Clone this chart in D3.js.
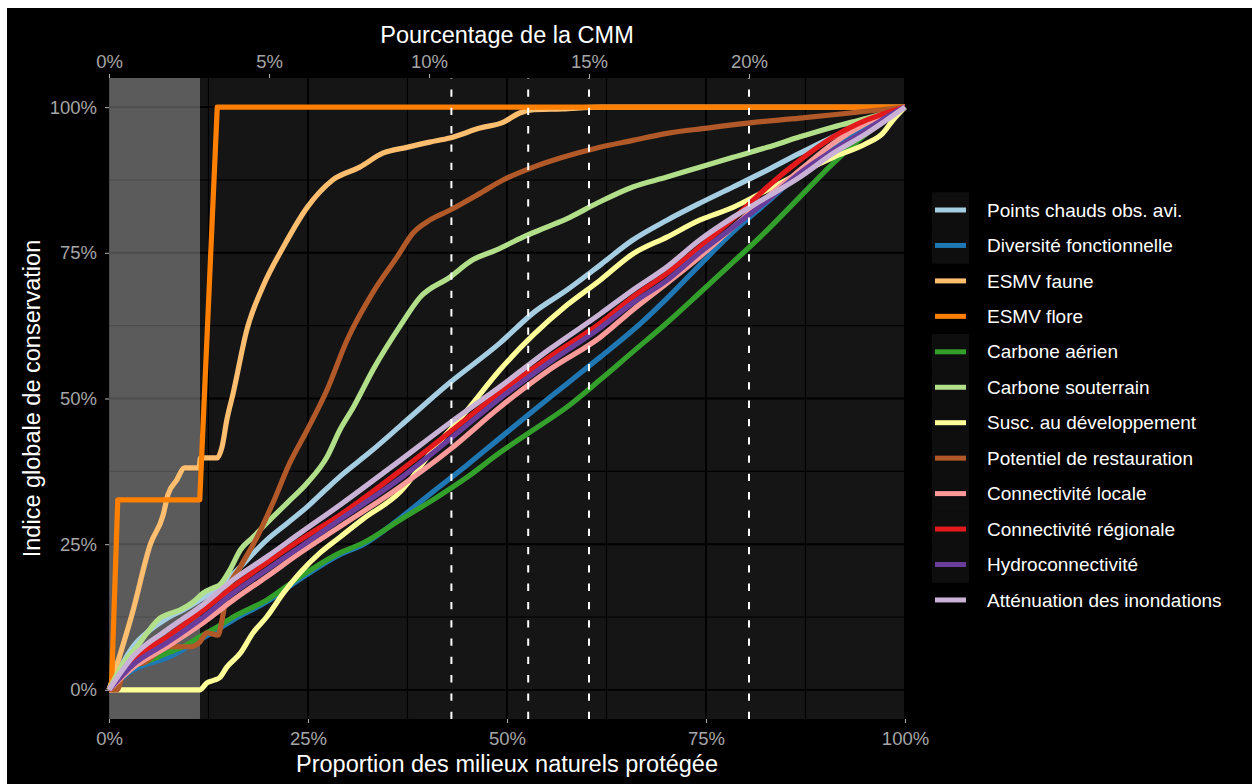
<!DOCTYPE html>
<html><head><meta charset="utf-8">
<script src="https://cdn.jsdelivr.net/npm/d3@7"></script>
<style>html,body{margin:0;padding:0;background:#fff;} svg{display:block;}</style>
</head><body><svg id="chart" width="1252" height="784"></svg>
<script>
// ---------------- DATA (x: % milieux naturels protégés, y: % indice) ----------------
const seriesNames = [
  "Points chauds obs. avi.", "Diversité fonctionnelle", "ESMV faune", "ESMV flore",
  "Carbone aérien", "Carbone souterrain", "Susc. au développement", "Potentiel de restauration",
  "Connectivité locale", "Connectivité régionale", "Hydroconnectivité", "Atténuation des inondations"
];
const seriesColors = ["#A6CEE3","#1F78B4","#FDBF6F","#FF7F00","#33A02C","#B2DF8A","#FFFF99","#B15928","#FB9A99","#E31A1C","#6A3D9A","#CAB2D6"];

const pointsChauds = [[0,0],[3.0,7.4],[5.2,10.3],[7.3,12.3],[9.3,13.7],[11.4,15.4],[13.9,17.7],[16.5,21.1],[19.8,25.7],[22.4,28.6],[24.9,31.4],[27.4,34.6],[29.0,36.6],[32.8,40.8],[36.6,45.3],[42.8,52.7],[49.1,59.5],[53.3,64.7],[57.5,68.6],[61.7,72.9],[65.8,77.2],[70.1,80.6],[74.2,83.5],[78.4,86.3],[82.7,89.2],[86.8,92.1],[91.0,94.9],[95.2,97.3],[100,100]];
const diversiteFonct = [[0,0],[3.0,3.4],[5.2,4.6],[7.3,5.5],[9.3,6.9],[11.4,8.6],[13.6,10.3],[15.6,12.0],[19.8,15.1],[24.0,19.0],[29.0,23.2],[31.9,24.9],[36.6,29.5],[40.7,34.0],[45.0,38.6],[49.1,43.2],[53.3,47.9],[57.5,52.5],[61.7,57.1],[65.8,61.7],[70.1,67.2],[74.2,72.9],[78.4,78.6],[82.7,83.7],[86.8,88.7],[91.0,93.1],[95.2,96.6],[100,100]];
const esmvFaune = [[0,0],[3.0,13.5],[5.2,25.0],[6.8,30.0],[7.4,33.5],[8.5,36.0],[9.5,38.1],[11.3,38.1],[11.5,39.8],[13.6,39.8],[14.2,41.7],[14.8,46.3],[15.6,50.9],[17.3,61.7],[19.3,69.1],[21.9,76.0],[24.9,82.8],[28.1,87.5],[31.5,89.7],[34.4,92.1],[37.4,93.1],[40.3,94.0],[42.8,94.7],[46.6,96.4],[49.5,97.4],[51.6,99.0],[52.9,99.5],[57.0,99.7],[61.7,100],[100,100]];
const esmvFlore = [[0,0],[0.3,0],[1.1,32.6],[11.4,32.6],[13.6,100],[100,100]];
const carboneAerien = [[0,0],[3.0,3.9],[5.2,5.1],[7.3,6.3],[9.3,7.4],[11.4,9.1],[13.6,10.8],[15.6,12.5],[19.8,15.4],[24.0,19.4],[29.0,23.5],[31.9,25.2],[36.6,29.2],[40.7,32.6],[45.0,36.5],[49.1,40.7],[53.3,44.6],[57.5,48.5],[61.7,53.2],[65.8,58.0],[70.1,63.0],[74.2,68.1],[78.4,73.4],[82.7,78.9],[86.8,84.6],[91.0,90.4],[95.2,95.5],[100,100]];
const carboneSout = [[0,0],[1.8,4.6],[3.5,7.4],[4.8,9.8],[6.4,12.3],[7.3,12.9],[8.9,13.7],[10.6,15.1],[11.8,16.6],[13.1,17.5],[13.9,18.0],[15.2,20.6],[16.5,24.0],[18.1,26.2],[19.8,28.6],[22.4,32.1],[24.9,35.5],[27.4,40.0],[29.0,44.6],[30.7,48.5],[33.2,55.0],[36.6,62.5],[39.1,67.4],[42.8,70.8],[45.7,73.8],[48.7,75.5],[52.0,77.7],[55.0,79.4],[57.9,81.1],[61.3,83.5],[65.8,86.3],[70.1,88.0],[74.2,89.7],[78.4,91.4],[82.7,93.1],[86.8,94.9],[91.0,96.6],[95.2,98.1],[100,100]];
const suscDev = [[0,0],[11.4,0],[12.3,1.2],[13.3,1.7],[13.9,2.1],[14.8,3.9],[16.5,6.3],[18.1,9.8],[19.8,12.5],[21.9,16.6],[24.0,20.1],[26.5,23.5],[29.0,26.2],[31.9,29.3],[36.6,34.0],[40.7,41.2],[45.0,48.0],[49.1,54.9],[53.3,60.9],[57.5,66.0],[61.7,70.3],[65.8,74.8],[70.1,77.7],[74.2,80.6],[78.4,82.8],[82.7,85.8],[86.8,88.7],[91.0,91.4],[95.2,93.8],[97.2,95.5],[98.5,97.8],[100,100]];
const potentielRest = [[0,0],[1.0,0],[1.8,2.9],[3.0,4.3],[4.3,4.6],[6.0,6.3],[7.3,7.4],[10.2,7.4],[11.4,8.2],[12.3,9.8],[13.7,9.4],[14.2,12.0],[14.8,16.6],[16.5,21.1],[18.6,26.2],[20.6,32.1],[22.7,38.9],[24.9,44.6],[27.4,51.5],[29.9,60.0],[33.2,68.3],[36.2,74.3],[38.2,78.4],[40.3,80.6],[42.8,82.3],[46.6,85.2],[49.5,87.5],[52.9,89.5],[57.0,91.4],[61.3,93.0],[65.8,94.3],[70.1,95.5],[75.1,96.4],[80.5,97.3],[86.8,98.1],[93.1,99.0],[100,100]];
const connLocale = [[0,0],[3.0,3.8],[7.3,7.4],[11.4,11.1],[15.6,15.4],[19.8,19.4],[24.0,23.5],[29.0,28.0],[36.2,34.5],[42.8,41.2],[49.1,48.5],[55.4,55.0],[61.7,60.5],[65.8,65.2],[70.1,69.8],[74.2,74.3],[78.4,79.4],[82.7,84.6],[86.8,89.2],[91.0,93.8],[95.2,97.3],[100,100]];
const connRegionale = [[0,0],[3.0,5.1],[7.3,9.1],[11.4,13.2],[15.6,17.7],[19.8,21.8],[24.0,25.7],[29.0,30.0],[36.2,37.2],[42.8,44.2],[49.1,51.0],[55.4,57.2],[61.7,62.9],[65.8,67.4],[70.1,71.5],[74.2,76.0],[79.6,82.3],[82.7,86.3],[86.8,90.9],[91.0,94.9],[95.2,97.8],[100,100]];
const hydroconn = [[0,0],[3.0,4.3],[7.3,8.1],[11.4,12.0],[15.6,16.6],[19.8,20.6],[24.0,24.5],[29.0,29.2],[36.2,35.9],[42.8,43.0],[49.1,50.0],[55.4,56.3],[61.7,62.1],[65.8,66.4],[70.1,70.3],[74.2,75.0],[78.4,79.4],[82.7,84.0],[86.8,88.7],[91.0,92.6],[95.2,96.1],[97.7,98.3],[100,100]];
const attenuation = [[0,0],[3.0,5.7],[7.3,10.3],[11.4,14.2],[15.6,18.9],[19.8,22.8],[24.0,26.9],[29.0,31.7],[36.2,39.0],[42.8,45.8],[49.1,52.0],[55.4,58.5],[61.7,64.5],[65.8,68.6],[70.1,72.6],[74.2,77.2],[78.4,81.1],[82.7,84.6],[86.8,88.0],[91.0,92.1],[95.2,95.5],[100,100]];

const seriesValues = [pointsChauds, diversiteFonct, esmvFaune, esmvFlore, carboneAerien, carboneSout,
  suscDev, potentielRest, connLocale, connRegionale, hydroconn, attenuation];

const xTicks = [0, 25, 50, 75, 100];
const yTicks = [0, 25, 50, 75, 100];
const xMinor = [12.5, 37.5, 62.5, 87.5];
const yMinor = [12.5, 37.5, 62.5, 87.5];
const cmmMax = 24.875;                 // 100 % des milieux naturels = 24.875 % de la CMM
const cmmTicks = [0, 5, 10, 15, 20];
const cmmDashed = [10.7, 13.1, 15, 20];
const protectedNow = 11.43;            // part déjà protégée (zone grisée)
const keyBgRows = [0,1,4,5,6,7,8,9,10];

// ---------------- DRAWING ----------------
const W = 1252, H = 784;
const svg = d3.select('#chart');
const FONT = '"Liberation Sans", Arial, Helvetica, sans-serif';
const panel = {l:109, r:905, t:78, b:719};

svg.append('rect').attr('width', W).attr('height', H).attr('fill', '#fff');
svg.append('rect').attr('x', 7).attr('y', 8).attr('width', W - 7).attr('height', H - 8).attr('fill', '#000');

const x = d3.scaleLinear().domain([0, 100]).range([panel.l, panel.r]);
const y = d3.scaleLinear().domain([-5, 105]).range([panel.b, panel.t]);
const xTop = d3.scaleLinear().domain([0, cmmMax]).range([panel.l, panel.r]);

svg.append('rect').attr('x', panel.l).attr('y', panel.t)
  .attr('width', panel.r - panel.l).attr('height', panel.b - panel.t).attr('fill', '#151515');

const grid = svg.append('g');
grid.selectAll('.xm').data(xMinor).join('line')
  .attr('x1', d => x(d)).attr('x2', d => x(d)).attr('y1', panel.t).attr('y2', panel.b)
  .attr('stroke', '#000').attr('stroke-width', 1.1);
grid.selectAll('.ym').data(yMinor).join('line')
  .attr('y1', d => y(d)).attr('y2', d => y(d)).attr('x1', panel.l).attr('x2', panel.r)
  .attr('stroke', '#000').attr('stroke-width', 1.1);
grid.selectAll('.xM').data(xTicks).join('line')
  .attr('x1', d => x(d)).attr('x2', d => x(d)).attr('y1', panel.t).attr('y2', panel.b)
  .attr('stroke', '#000').attr('stroke-width', 1.9);
grid.selectAll('.yM').data(yTicks).join('line')
  .attr('y1', d => y(d)).attr('y2', d => y(d)).attr('x1', panel.l).attr('x2', panel.r)
  .attr('stroke', '#000').attr('stroke-width', 1.9);

// shaded region (already protected)
svg.append('rect').attr('x', x(0)).attr('y', panel.t)
  .attr('width', x(protectedNow) - x(0)).attr('height', panel.b - panel.t)
  .attr('fill', '#fff').attr('fill-opacity', 0.3);

// lines
const lineSmooth = d3.line().x(d => x(d[0])).y(d => y(d[1])).curve(d3.curveMonotoneX);
const lineStep = d3.line().x(d => x(d[0])).y(d => y(d[1])).curve(d3.curveLinear);
const gLines = svg.append('g');
seriesValues.forEach((vals, i) => {
  gLines.append('path').datum(vals)
    .attr('d', seriesNames[i] === 'ESMV flore' ? lineStep : lineSmooth)
    .attr('fill', 'none').attr('stroke', seriesColors[i]).attr('stroke-width', 5.2)
    .attr('stroke-linejoin', 'round').attr('stroke-linecap', 'butt');
});

// dashed reference lines (CMM %)
svg.append('g').selectAll('line').data(cmmDashed).join('line')
  .attr('x1', d => xTop(d)).attr('x2', d => xTop(d)).attr('y1', panel.b).attr('y2', panel.t)
  .attr('stroke', '#fff').attr('stroke-width', 2).attr('stroke-dasharray', '7.3,11');

// axes
const tickCol = '#a6a6a6';
function styleAxis(g) {
  g.select('.domain').remove();
  g.selectAll('line').attr('stroke', tickCol).attr('stroke-width', 1.1);
  g.selectAll('text').attr('fill', tickCol).style('font-family', FONT).style('font-size', '18.5px');
}
svg.append('g').attr('transform', `translate(0,${panel.b})`)
  .call(d3.axisBottom(x).tickValues(xTicks).tickFormat(d => d + '%').tickSize(4).tickPadding(9))
  .call(styleAxis);
svg.append('g').attr('transform', `translate(${panel.l},0)`)
  .call(d3.axisLeft(y).tickValues(yTicks).tickFormat(d => d + '%').tickSize(4).tickPadding(8))
  .call(styleAxis);
svg.append('g').attr('transform', `translate(0,${panel.t})`)
  .call(d3.axisTop(xTop).tickValues(cmmTicks).tickFormat(d => d + '%').tickSize(4).tickPadding(6))
  .call(styleAxis);

// titles
const cx = (panel.l + panel.r) / 2;
svg.append('text').attr('x', cx).attr('y', 772).attr('text-anchor', 'middle')
  .attr('fill', '#fff').style('font-family', FONT).style('font-size', '23.5px')
  .text('Proportion des milieux naturels protégée');
svg.append('text').attr('x', cx).attr('y', 43).attr('text-anchor', 'middle')
  .attr('fill', '#fff').style('font-family', FONT).style('font-size', '23.5px')
  .text('Pourcentage de la CMM');
svg.append('text').attr('transform', `translate(40,${y(50)}) rotate(-90)`).attr('text-anchor', 'middle')
  .attr('fill', '#fff').style('font-family', FONT).style('font-size', '23.5px')
  .text('Indice globale de conservation');

// legend
const leg = svg.append('g');
const row0 = 210, rowStep = 35.45;
keyBgRows.forEach(i => {
  leg.append('rect').attr('x', 932).attr('y', row0 + i * rowStep - rowStep / 2)
    .attr('width', 37).attr('height', rowStep + 0.5).attr('fill', '#0e0e0e');
});
seriesNames.forEach((name, i) => {
  const ry = row0 + i * rowStep;
  leg.append('line').attr('x1', 935).attr('x2', 966).attr('y1', ry).attr('y2', ry)
    .attr('stroke', seriesColors[i]).attr('stroke-width', 5);
  leg.append('text').attr('x', 987).attr('y', ry).attr('dy', '0.35em')
    .attr('fill', '#fff').style('font-family', FONT).style('font-size', '19px').text(name);
});
</script></body></html>
